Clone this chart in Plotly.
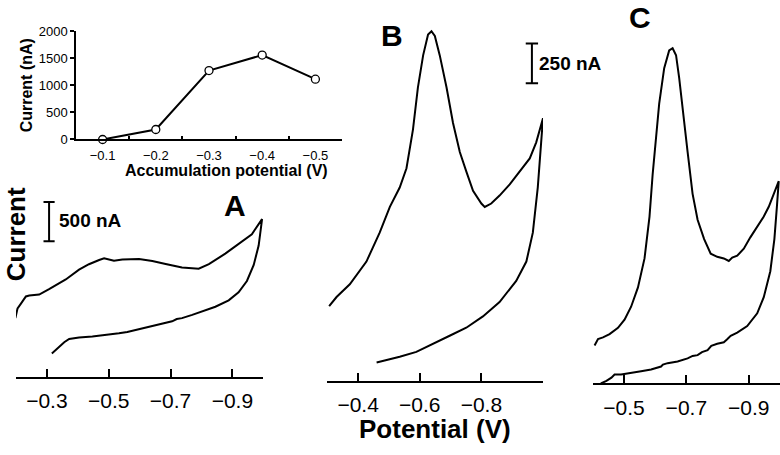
import plotly.graph_objects as go

FONT = "Liberation Sans, Arial, sans-serif"

# ---- inset: peak current vs accumulation potential ----
inset_potential = [-0.1, -0.2, -0.3, -0.4, -0.5]
inset_current = [0, 184, 1273, 1559, 1113]

# ---- panel A (potential V, current nA) ----
a_fwd_v = [-0.198, -0.205, -0.216, -0.232, -0.243, -0.275, -0.307, -0.361, -0.404, -0.436, -0.469,
           -0.485, -0.517, -0.544, -0.598, -0.641, -0.684, -0.737, -0.791, -0.824, -0.877, -0.920,
           -0.963, -0.996]
a_fwd_i = [751, 875, 936, 1027, 1040, 1052, 1121, 1244, 1368, 1438, 1491,
           1512, 1483, 1499, 1503, 1478, 1441, 1397, 1380, 1438, 1573, 1696,
           1820, 2013]
a_rev_v = [-0.985, -0.969, -0.947, -0.920, -0.888, -0.845, -0.802, -0.790, -0.770, -0.737, -0.720,
           -0.705, -0.662, -0.640, -0.619, -0.576, -0.560, -0.533, -0.490, -0.447, -0.404, -0.372,
           -0.356, -0.340, -0.316]
a_rev_i = [1676, 1429, 1224, 1080, 978, 896, 834, 820, 793, 751, 740,
           711, 670, 655, 628, 588, 575, 559, 535, 517, 505, 485,
           444, 382, 300]

# ---- panel B ----
b_fwd_v = [-0.306, -0.330, -0.373, -0.427, -0.470, -0.503, -0.535, -0.557, -0.578, -0.594, -0.611,
           -0.627, -0.638, -0.649, -0.665, -0.687, -0.708, -0.730, -0.751, -0.773, -0.800, -0.811,
           -0.832, -0.859, -0.892, -0.924, -0.957, -0.978, -1.000]
b_fwd_i = [468, 525, 605, 747, 928, 1089, 1210, 1331, 1573, 1836, 2037,
           2168, 2188, 2158, 2037, 1836, 1614, 1432, 1311, 1190, 1110, 1089,
           1110, 1160, 1230, 1311, 1392, 1493, 1644]
b_rev_v = [-0.994, -0.983, -0.967, -0.946, -0.913, -0.859, -0.805, -0.751, -0.697, -0.643, -0.589,
           -0.535, -0.492, -0.460]
b_rev_i = [1493, 1210, 928, 747, 626, 494, 404, 333, 283, 232, 182,
           151, 131, 115]

# ---- panel C ----
c_fwd_v = [-0.406, -0.417, -0.433, -0.454, -0.481, -0.502, -0.523, -0.545, -0.566, -0.582, -0.592,
           -0.603, -0.613, -0.629, -0.645, -0.656, -0.667, -0.677, -0.688, -0.704, -0.720, -0.736,
           -0.757, -0.778, -0.799, -0.820, -0.836, -0.847, -0.863, -0.884, -0.905, -0.927, -0.948,
           -0.964, -0.980, -0.996]
c_fwd_i = [238, 278, 288, 309, 348, 399, 480, 601, 782, 1044, 1307,
           1549, 1750, 1972, 2083, 2097, 2053, 1912, 1710, 1448, 1186, 1024,
           903, 812, 792, 782, 766, 787, 799, 843, 914, 984, 1044,
           1105, 1186, 1266]
c_rev_v = [-0.990, -0.982, -0.969, -0.948, -0.927, -0.895, -0.863, -0.842, -0.830, -0.820, -0.799,
           -0.780, -0.768, -0.750, -0.736, -0.720, -0.704, -0.672, -0.640, -0.625, -0.619, -0.587,
           -0.555, -0.523, -0.491, -0.470, -0.460, -0.444, -0.426]
c_rev_i = [1105, 903, 702, 540, 439, 359, 318, 298, 275, 258, 248,
           235, 208, 196, 177, 172, 157, 137, 127, 118, 106, 87,
           76, 67, 56, 56, 36, 16, 0]

# tick labels
a_ticks = [-0.3, -0.5, -0.7, -0.9]
b_ticks = [-0.4, -0.6, -0.8]
c_ticks = [-0.5, -0.7, -0.9]
inset_xticks = [-0.1, -0.2, -0.3, -0.4, -0.5]
inset_yticks = [0, 500, 1000, 1500, 2000]

scale_a_nA = 500
scale_b_nA = 250

LINE = dict(color="black", width=2)

fig = go.Figure()
fig.add_trace(go.Scatter(x=inset_potential, y=inset_current, mode="lines+markers",
                         line=dict(color="black", width=2),
                         marker=dict(symbol="circle", size=8, color="white",
                                     line=dict(color="black", width=1.3)),
                         xaxis="x", yaxis="y", cliponaxis=False))
fig.add_trace(go.Scatter(x=a_fwd_v + a_rev_v, y=a_fwd_i + a_rev_i, mode="lines", line=LINE,
                         xaxis="x2", yaxis="y2", cliponaxis=False))
fig.add_trace(go.Scatter(x=b_fwd_v + b_rev_v, y=b_fwd_i + b_rev_i, mode="lines", line=LINE,
                         xaxis="x3", yaxis="y3", cliponaxis=False))
fig.add_trace(go.Scatter(x=c_fwd_v + c_rev_v, y=c_fwd_i + c_rev_i, mode="lines", line=LINE,
                         xaxis="x4", yaxis="y4", cliponaxis=False))

W, H = 780, 455
def px(x): return x / W
def py(y): return 1 - y / H

tickfont_main = dict(family=FONT, size=21, color="black")

def main_x(domain, rng, ticks, anchor):
    return dict(domain=domain, range=rng, anchor=anchor, showline=True, linecolor="black",
                linewidth=2, ticks="inside", ticklen=8, tickwidth=2, tickcolor="black",
                tickvals=ticks, ticktext=[f"\u2212{abs(t):.1f}" for t in ticks],
                tickfont=tickfont_main, showgrid=False, zeroline=False, ticklabelstandoff=4)

def main_y(domain, rng, anchor):
    return dict(domain=domain, range=rng, anchor=anchor, visible=False, showgrid=False,
                zeroline=False)

fig.update_layout(
    width=W, height=H, margin=dict(l=0, r=0, t=0, b=0),
    paper_bgcolor="white", plot_bgcolor="rgba(0,0,0,0)", showlegend=False,
    xaxis=dict(domain=[px(76), px(342)], range=[-0.05, -0.55], anchor="y",
               showline=True, linecolor="black", linewidth=1.5, ticks="",
               tickvals=inset_xticks, ticktext=[f"\u2212{abs(t):.1f}" for t in inset_xticks],
               tickfont=dict(family=FONT, size=13, color="black"), showgrid=False, zeroline=False,
               ticklabelstandoff=3,
               minor=dict(tickvals=[-0.15, -0.25, -0.35, -0.45], ticks="inside", ticklen=4,
                          tickwidth=1.5, tickcolor="black")),
    yaxis=dict(domain=[py(137), py(25)], range=[0, 2000], anchor="x",
               showline=True, linecolor="black", linewidth=1.5, ticks="outside", ticklen=4,
               tickwidth=1.5, tickcolor="black", tickvals=inset_yticks,
               tickfont=dict(family=FONT, size=13, color="black"), showgrid=False, zeroline=False),
    xaxis2=main_x([px(16), px(263.3)], [-0.2, -1.0], a_ticks, "y2"),
    yaxis2=main_y([py(382.7), py(190)], [0, 2374], "x2"),
    xaxis3=main_x([px(327.3), px(543)], [-0.3, -1.0], b_ticks, "y3"),
    yaxis3=main_y([py(386.7), py(15)], [0, 2249], "x3"),
    xaxis4=main_x([px(592.7), px(780)], [-0.4, -1.0], c_ticks, "y4"),
    yaxis4=main_y([py(389.3), py(15)], [0, 2264], "x4"),
)

# scale bars (drawn in data units of their panel)
def scale_bar(xref, yref, xv, y0, length, half):
    return [
        dict(type="line", xref=xref, yref=yref, x0=xv, x1=xv, y0=y0, y1=y0 + length,
             line=dict(color="black", width=2)),
        dict(type="line", xref=xref, yref=yref, x0=xv - half, x1=xv + half, y0=y0, y1=y0,
             line=dict(color="black", width=2)),
        dict(type="line", xref=xref, yref=yref, x0=xv - half, x1=xv + half, y0=y0 + length,
             y1=y0 + length, line=dict(color="black", width=2)),
    ]

shapes = scale_bar("x2", "y2", -0.307, 1730, scale_a_nA, 0.018)
shapes += scale_bar("x3", "y3", -0.964, 1862, scale_b_nA, 0.02)
fig.update_layout(shapes=shapes)

bold = lambda s: dict(family=FONT, size=s, color="black")
ann = [
    dict(text="<b>500 nA</b>", x=px(57), y=py(221), xanchor="left", yanchor="middle", font=bold(19)),
    dict(text="<b>250 nA</b>", x=px(537), y=py(58), xanchor="left", yanchor="middle", font=bold(19)),
    dict(text="<b>A</b>", x=px(235), y=py(205), xanchor="center", yanchor="middle", font=bold(30)),
    dict(text="<b>B</b>", x=px(392), y=py(29), xanchor="center", yanchor="middle", font=bold(30)),
    dict(text="<b>C</b>", x=px(640), y=py(11), xanchor="center", yanchor="middle", font=bold(30)),
    dict(text="<b>Current</b>", x=px(16), y=py(235), xanchor="center", yanchor="middle",
         textangle=-90, font=bold(26)),
    dict(text="<b>Potential (V)</b>", x=px(435), y=py(436), xanchor="center", yanchor="middle",
         font=bold(26)),
    dict(text="<b>Current (nA)</b>", x=px(26), y=py(81), xanchor="center", yanchor="middle",
         textangle=-90, font=bold(16)),
    dict(text="<b>Accumulation potential (V)</b>", x=px(226), y=py(169), xanchor="center",
         yanchor="middle", font=bold(16)),
]
for a in ann:
    a.update(xref="paper", yref="paper", showarrow=False)
fig.update_layout(annotations=ann)

fig.write_html("out.html", config={"displayModeBar": False},
               post_script="document.body.style.margin='0';")
